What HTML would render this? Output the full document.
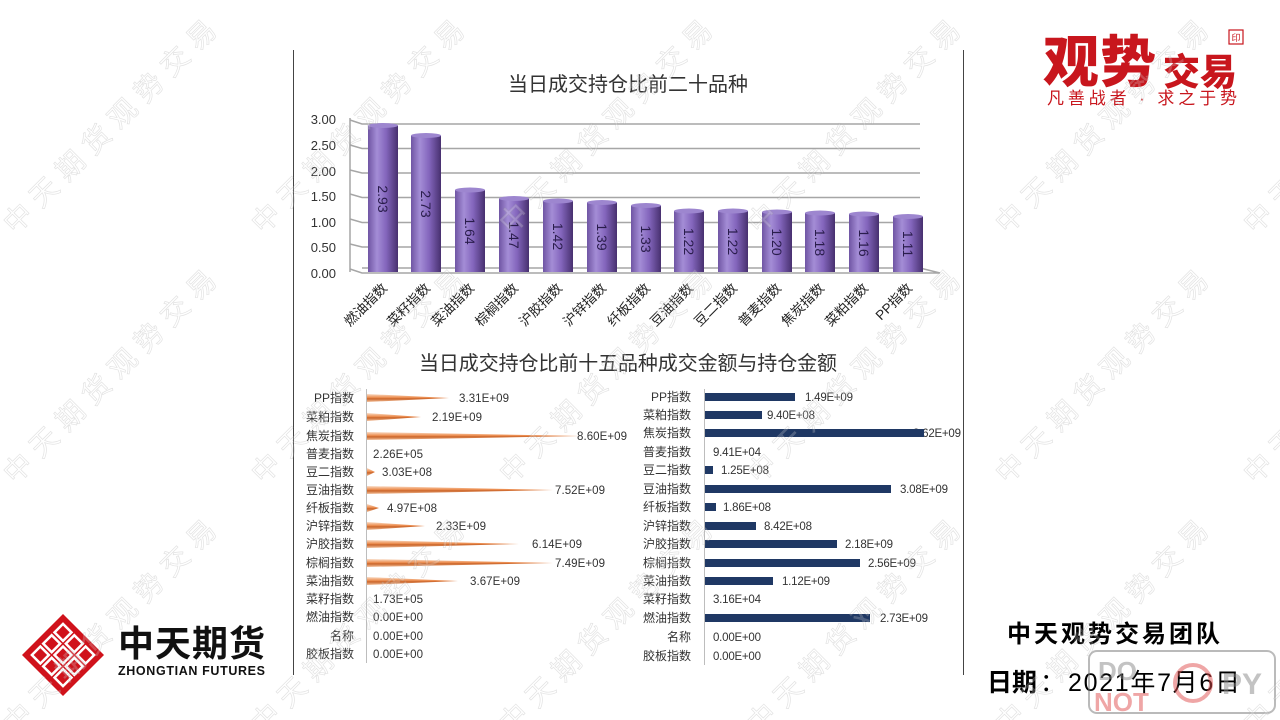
<!DOCTYPE html>
<html><head><meta charset="utf-8"><style>
html,body{margin:0;padding:0;background:#fff;}
svg{display:block;}
text{font-family:"Liberation Sans","Noto Sans CJK SC",sans-serif;}
</style></head><body>
<svg width="1280" height="720" viewBox="0 0 1280 720" xmlns="http://www.w3.org/2000/svg">
<defs>
<linearGradient id="cyl" x1="0" y1="0" x2="1" y2="0">
<stop offset="0" stop-color="#6f55a3"/><stop offset="0.3" stop-color="#a48dd6"/><stop offset="0.6" stop-color="#8466bd"/><stop offset="1" stop-color="#47306f"/>
</linearGradient>
<linearGradient id="cone" x1="0" y1="0" x2="0" y2="1">
<stop offset="0" stop-color="#f9dcc6"/><stop offset="0.45" stop-color="#ec8d4f"/><stop offset="0.6" stop-color="#c9652b"/><stop offset="1" stop-color="#f4c09a"/>
</linearGradient>
</defs>
<rect width="1280" height="720" fill="#fff"/>

<!-- frame lines -->
<line x1="293.5" y1="50" x2="293.5" y2="675" stroke="#444" stroke-width="1"/>
<line x1="963.5" y1="50" x2="963.5" y2="675" stroke="#444" stroke-width="1"/>

<!-- top chart -->
<text x="628" y="91" font-size="20" fill="#333" text-anchor="middle" textLength="240">当日成交持仓比前二十品种</text>
<g stroke="#a6a6a6" stroke-width="1.5" fill="none">
<line x1="350" y1="118" x2="350" y2="272"/>
<polyline points="350,120 362,124 920,124"/>
<polyline points="350,145 362,148.5 920,148.5"/>
<polyline points="350,170 362,173 920,173"/>
<polyline points="350,194 362,197.5 920,197.5"/>
<polyline points="350,219 362,222.5 920,222.5"/>
<polyline points="350,244 362,247 920,247"/>
<polyline points="350,269 362,273 940,273 920,268 362,268"/>
</g>
<g font-size="13" fill="#333" text-anchor="end">
<text x="336" y="124">3.00</text><text x="336" y="150">2.50</text><text x="336" y="176">2.00</text>
<text x="336" y="201">1.50</text><text x="336" y="227">1.00</text><text x="336" y="252">0.50</text><text x="336" y="278">0.00</text>
</g>
<g>
<rect x="368" y="125.5" width="30" height="146.5" fill="url(#cyl)"/><ellipse cx="383" cy="125.5" rx="15" ry="2.5" fill="#9d86cf"/>
<rect x="411" y="135.5" width="30" height="136.5" fill="url(#cyl)"/><ellipse cx="426" cy="135.5" rx="15" ry="2.5" fill="#9d86cf"/>
<rect x="455" y="190" width="30" height="82" fill="url(#cyl)"/><ellipse cx="470" cy="190" rx="15" ry="2.5" fill="#9d86cf"/>
<rect x="499" y="198.5" width="30" height="73.5" fill="url(#cyl)"/><ellipse cx="514" cy="198.5" rx="15" ry="2.5" fill="#9d86cf"/>
<rect x="543" y="201" width="30" height="71" fill="url(#cyl)"/><ellipse cx="558" cy="201" rx="15" ry="2.5" fill="#9d86cf"/>
<rect x="587" y="202.5" width="30" height="69.5" fill="url(#cyl)"/><ellipse cx="602" cy="202.5" rx="15" ry="2.5" fill="#9d86cf"/>
<rect x="631" y="205.5" width="30" height="66.5" fill="url(#cyl)"/><ellipse cx="646" cy="205.5" rx="15" ry="2.5" fill="#9d86cf"/>
<rect x="674" y="211" width="30" height="61" fill="url(#cyl)"/><ellipse cx="689" cy="211" rx="15" ry="2.5" fill="#9d86cf"/>
<rect x="718" y="211" width="30" height="61" fill="url(#cyl)"/><ellipse cx="733" cy="211" rx="15" ry="2.5" fill="#9d86cf"/>
<rect x="762" y="212" width="30" height="60" fill="url(#cyl)"/><ellipse cx="777" cy="212" rx="15" ry="2.5" fill="#9d86cf"/>
<rect x="805" y="213" width="30" height="59" fill="url(#cyl)"/><ellipse cx="820" cy="213" rx="15" ry="2.5" fill="#9d86cf"/>
<rect x="849" y="214" width="30" height="58" fill="url(#cyl)"/><ellipse cx="864" cy="214" rx="15" ry="2.5" fill="#9d86cf"/>
<rect x="893" y="216.5" width="30" height="55.5" fill="url(#cyl)"/><ellipse cx="908" cy="216.5" rx="15" ry="2.5" fill="#9d86cf"/>
</g>
<g font-size="14" fill="#2a1d4c" text-anchor="middle">
<text transform="translate(378,199) rotate(90)">2.93</text>
<text transform="translate(421,204) rotate(90)">2.73</text>
<text transform="translate(465,231) rotate(90)">1.64</text>
<text transform="translate(509,235) rotate(90)">1.47</text>
<text transform="translate(553,236.5) rotate(90)">1.42</text>
<text transform="translate(597,237) rotate(90)">1.39</text>
<text transform="translate(641,239) rotate(90)">1.33</text>
<text transform="translate(684,241.5) rotate(90)">1.22</text>
<text transform="translate(728,241.5) rotate(90)">1.22</text>
<text transform="translate(772,242) rotate(90)">1.20</text>
<text transform="translate(815,242.5) rotate(90)">1.18</text>
<text transform="translate(859,243) rotate(90)">1.16</text>
<text transform="translate(903,244) rotate(90)">1.11</text>
</g>
<g font-size="13.5" fill="#222" text-anchor="end">
<text transform="translate(388,289) rotate(-45)">燃油指数</text>
<text transform="translate(431,289) rotate(-45)">菜籽指数</text>
<text transform="translate(475,289) rotate(-45)">菜油指数</text>
<text transform="translate(519,289) rotate(-45)">棕榈指数</text>
<text transform="translate(563,289) rotate(-45)">沪胶指数</text>
<text transform="translate(607,289) rotate(-45)">沪锌指数</text>
<text transform="translate(651,289) rotate(-45)">纤板指数</text>
<text transform="translate(694,289) rotate(-45)">豆油指数</text>
<text transform="translate(738,289) rotate(-45)">豆二指数</text>
<text transform="translate(782,289) rotate(-45)">普麦指数</text>
<text transform="translate(825,289) rotate(-45)">焦炭指数</text>
<text transform="translate(869,289) rotate(-45)">菜粕指数</text>
<text transform="translate(913,289) rotate(-45)">PP指数</text>
</g>

<!-- lower title -->
<text x="628" y="370" font-size="20" fill="#333" text-anchor="middle" textLength="418">当日成交持仓比前十五品种成交金额与持仓金额</text>

<!-- lower left -->
<line x1="366.5" y1="389" x2="366.5" y2="663" stroke="#bdbdbd" stroke-width="1"/>
<g font-size="12" fill="#333" text-anchor="end">
<text x="354" y="402">PP指数</text><text x="354" y="421">菜粕指数</text><text x="354" y="440">焦炭指数</text>
<text x="354" y="458">普麦指数</text><text x="354" y="476">豆二指数</text><text x="354" y="494">豆油指数</text>
<text x="354" y="512">纤板指数</text><text x="354" y="530">沪锌指数</text><text x="354" y="548">沪胶指数</text>
<text x="354" y="567">棕榈指数</text><text x="354" y="585">菜油指数</text><text x="354" y="603">菜籽指数</text>
<text x="354" y="621">燃油指数</text><text x="354" y="640">名称</text><text x="354" y="658">胶板指数</text>
</g>
<g fill="url(#cone)">
<polygon points="367,394 449,398 367,402"/>
<polygon points="367,413 421,417 367,421"/>
<polygon points="367,432 580,436 367,440"/>
<polygon points="367,468 375,472 367,476"/>
<polygon points="367,486 553,490 367,494"/>
<polygon points="367,504 379,508 367,512"/>
<polygon points="367,522 425,526 367,530"/>
<polygon points="367,540 519,544 367,548"/>
<polygon points="367,559 553,563 367,567"/>
<polygon points="367,577 458,581 367,585"/>
</g>
<g font-size="11.5" fill="#333">
<text x="459" y="402" textLength="50">3.31E+09</text><text x="432" y="421" textLength="50">2.19E+09</text><text x="577" y="440" textLength="50">8.60E+09</text>
<text x="373" y="458" textLength="50">2.26E+05</text><text x="382" y="476" textLength="50">3.03E+08</text><text x="555" y="494" textLength="50">7.52E+09</text>
<text x="387" y="512" textLength="50">4.97E+08</text><text x="436" y="530" textLength="50">2.33E+09</text><text x="532" y="548" textLength="50">6.14E+09</text>
<text x="555" y="567" textLength="50">7.49E+09</text><text x="470" y="585" textLength="50">3.67E+09</text><text x="373" y="603" textLength="50">1.73E+05</text>
<text x="373" y="621" textLength="50">0.00E+00</text><text x="373" y="640" textLength="50">0.00E+00</text><text x="373" y="658" textLength="50">0.00E+00</text>
</g>

<!-- lower right -->
<line x1="704.5" y1="389" x2="704.5" y2="665" stroke="#bdbdbd" stroke-width="1"/>
<g font-size="12" fill="#333" text-anchor="end">
<text x="691" y="401">PP指数</text><text x="691" y="419">菜粕指数</text><text x="691" y="437">焦炭指数</text>
<text x="691" y="456">普麦指数</text><text x="691" y="474">豆二指数</text><text x="691" y="493">豆油指数</text>
<text x="691" y="511">纤板指数</text><text x="691" y="530">沪锌指数</text><text x="691" y="548">沪胶指数</text>
<text x="691" y="567">棕榈指数</text><text x="691" y="585">菜油指数</text><text x="691" y="603">菜籽指数</text>
<text x="691" y="622">燃油指数</text><text x="691" y="641">名称</text><text x="691" y="660">胶板指数</text>
</g>
<g font-size="11.5" fill="#333">
<text x="805" y="401" textLength="48">1.49E+09</text><text x="767" y="419" textLength="48">9.40E+08</text><text x="913" y="437" textLength="48">3.62E+09</text>
<text x="713" y="456" textLength="48">9.41E+04</text><text x="721" y="474" textLength="48">1.25E+08</text><text x="900" y="493" textLength="48">3.08E+09</text>
<text x="723" y="511" textLength="48">1.86E+08</text><text x="764" y="530" textLength="48">8.42E+08</text><text x="845" y="548" textLength="48">2.18E+09</text>
<text x="868" y="567" textLength="48">2.56E+09</text><text x="782" y="585" textLength="48">1.12E+09</text><text x="713" y="603" textLength="48">3.16E+04</text>
<text x="880" y="622" textLength="48">2.73E+09</text><text x="713" y="641" textLength="48">0.00E+00</text><text x="713" y="660" textLength="48">0.00E+00</text>
</g>
<g fill="#1f3864">
<rect x="705" y="393" width="90" height="8"/>
<rect x="705" y="411" width="57" height="8"/>
<rect x="705" y="429" width="219" height="8"/>
<rect x="705" y="466" width="8" height="8"/>
<rect x="705" y="485" width="186" height="8"/>
<rect x="705" y="503" width="11" height="8"/>
<rect x="705" y="522" width="51" height="8"/>
<rect x="705" y="540" width="132" height="8"/>
<rect x="705" y="559" width="155" height="8"/>
<rect x="705" y="577" width="68" height="8"/>
<rect x="705" y="614" width="165" height="8"/>
</g>

<!-- top-right logo -->
<g fill="#c8161d" font-weight="900">
<text x="1043" y="82" font-size="56" font-family="'Noto Serif CJK SC',serif">观</text>
<text x="1100" y="82" font-size="56" font-family="'Noto Serif CJK SC',serif">势</text>
<text x="1163" y="85" font-size="37" font-family="'Noto Serif CJK SC',serif">交易</text>
</g>
<rect x="1229" y="30" width="14" height="14" fill="none" stroke="#c8161d" stroke-width="1.2"/>
<text x="1236" y="41" font-size="9" fill="#c8161d" text-anchor="middle">印</text>
<text x="1047" y="104" font-size="17" fill="#c8161d" textLength="190">凡善战者 · 求之于势</text>

<!-- bottom-left logo -->
<g transform="translate(63,655) rotate(45)">
<rect x="-29" y="-29" width="58" height="58" fill="#d0121b"/>
<g fill="none" stroke="#fff" stroke-width="2.5">
<rect x="-22" y="-22" width="12" height="12"/><rect x="-6" y="-22" width="12" height="12"/><rect x="10" y="-22" width="12" height="12"/>
<rect x="-22" y="-6" width="12" height="12"/><rect x="-6" y="-6" width="12" height="12"/><rect x="10" y="-6" width="12" height="12"/>
<rect x="-22" y="10" width="12" height="12"/><rect x="-6" y="10" width="12" height="12"/><rect x="10" y="10" width="12" height="12"/>
</g>
</g>
<text x="118" y="656" font-size="36" font-weight="bold" fill="#111" textLength="147">中天期货</text>
<text x="118" y="675" font-size="12.5" font-weight="bold" fill="#111" textLength="147">ZHONGTIAN FUTURES</text>

<!-- bottom right -->
<text x="1007" y="642" font-size="24" font-weight="bold" fill="#000" textLength="213">中天观势交易团队</text>
<text x="987" y="691" font-size="25" font-weight="bold" fill="#000">日期</text>
<text x="1040" y="691" font-size="25" fill="#000">：</text>
<text x="1068" y="691" font-size="25" fill="#000" textLength="172">2021年7月6日</text>
<g opacity="0.5">
<rect x="1089" y="651" width="186" height="62" rx="8" fill="none" stroke="#777" stroke-width="2"/>
<text x="1098" y="680" font-size="26" font-weight="bold" fill="#888">DO</text>
<text x="1094" y="711" font-size="26" font-weight="bold" fill="#e05050">NOT</text>
<circle cx="1193" cy="683" r="18" fill="none" stroke="#e05050" stroke-width="4"/>
<text x="1222" y="694" font-size="30" font-weight="bold" fill="#888">PY</text>
</g>

<!-- watermarks -->
<g font-size="28" font-family="'Noto Sans CJK SC',sans-serif" fill="rgba(255,255,255,0.2)" stroke="rgba(150,150,150,0.28)" stroke-width="0.7" letter-spacing="9">
<text transform="translate(15,235) rotate(-45)">中天期货观势交易</text>
<text transform="translate(263,235) rotate(-45)">中天期货观势交易</text>
<text transform="translate(511,235) rotate(-45)">中天期货观势交易</text>
<text transform="translate(759,235) rotate(-45)">中天期货观势交易</text>
<text transform="translate(1007,235) rotate(-45)">中天期货观势交易</text>
<text transform="translate(1255,235) rotate(-45)">中天期货观势交易</text>
<text transform="translate(15,485) rotate(-45)">中天期货观势交易</text>
<text transform="translate(263,485) rotate(-45)">中天期货观势交易</text>
<text transform="translate(511,485) rotate(-45)">中天期货观势交易</text>
<text transform="translate(759,485) rotate(-45)">中天期货观势交易</text>
<text transform="translate(1007,485) rotate(-45)">中天期货观势交易</text>
<text transform="translate(1255,485) rotate(-45)">中天期货观势交易</text>
<text transform="translate(15,735) rotate(-45)">中天期货观势交易</text>
<text transform="translate(263,735) rotate(-45)">中天期货观势交易</text>
<text transform="translate(511,735) rotate(-45)">中天期货观势交易</text>
<text transform="translate(759,735) rotate(-45)">中天期货观势交易</text>
<text transform="translate(1007,735) rotate(-45)">中天期货观势交易</text>
<text transform="translate(1255,735) rotate(-45)">中天期货观势交易</text>
</g>
</svg>
</body></html>
